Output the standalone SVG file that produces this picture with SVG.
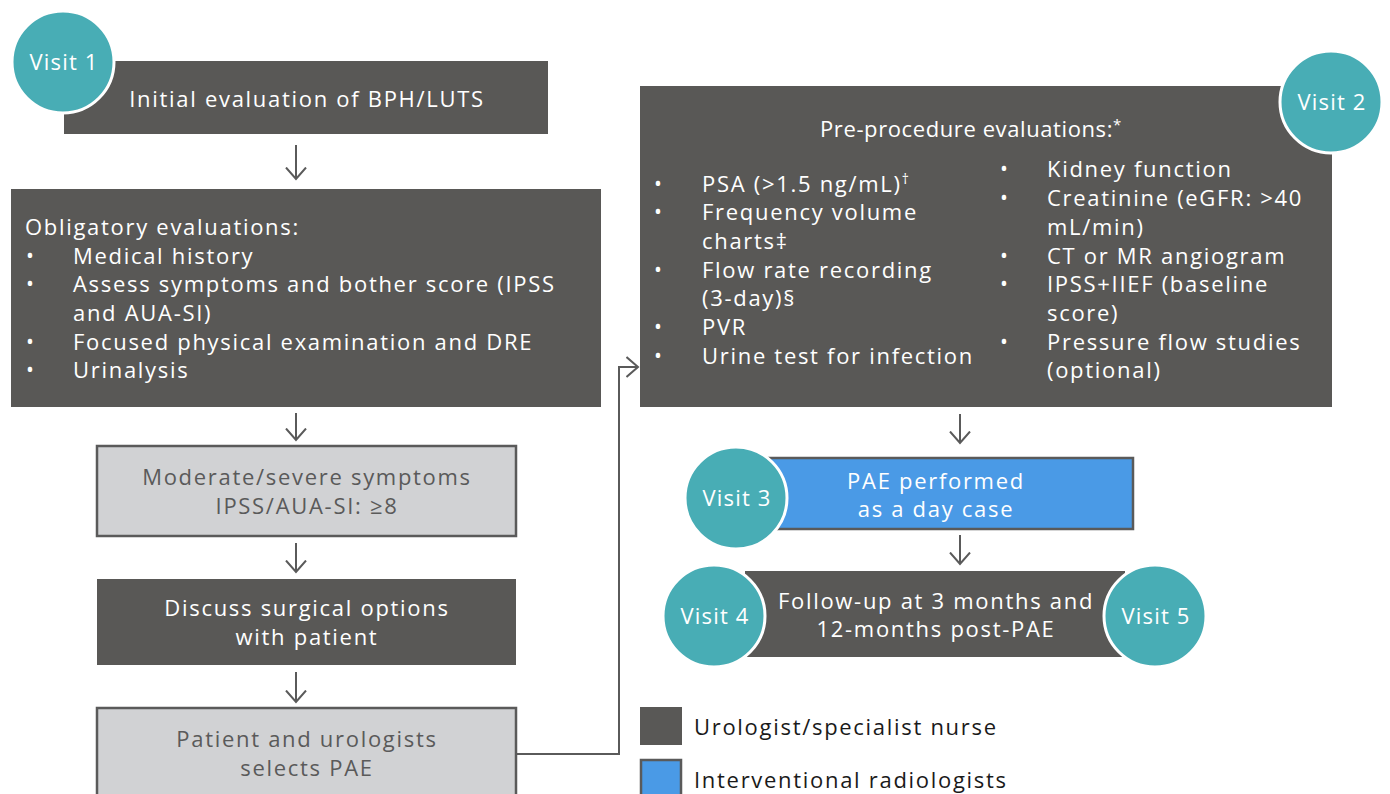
<svg xmlns="http://www.w3.org/2000/svg" width="1390" height="794" viewBox="0 0 1390 794">
<style>
.dark{fill:#595856}
.light{fill:#d1d2d4;stroke:#5a5a5a;stroke-width:2.5}
.blue{fill:#4a9ae6;stroke:#5a5a5a;stroke-width:2.5}
.visit{fill:#48adb5;stroke:#fff;stroke-width:3}
text{font-family:"Open Sans","Liberation Sans",sans-serif;font-size:22px;letter-spacing:1.7px}
.w{fill:#fff}
.g{fill:#5a5a5a}
.k{fill:#1a1a1a}
.c{text-anchor:middle}
.b{font-size:21px;letter-spacing:0}
.conn{fill:none;stroke:#5a5a5a;stroke-width:2}
</style>
<defs>
<marker id="ah" viewBox="0 0 14 22" refX="12.5" refY="11" markerWidth="14" markerHeight="22" markerUnits="userSpaceOnUse" orient="auto">
<path d="M1,1 L12.5,11 L1,21" fill="none" stroke="#5a5a5a" stroke-width="2"/>
</marker>
</defs>

<g id="connectors">
<line class="conn" x1="296" y1="145" x2="296" y2="179" marker-end="url(#ah)"/>
<line class="conn" x1="296" y1="413" x2="296" y2="440" marker-end="url(#ah)"/>
<line class="conn" x1="296" y1="543" x2="296" y2="572" marker-end="url(#ah)"/>
<line class="conn" x1="296" y1="672" x2="296" y2="702" marker-end="url(#ah)"/>
<polyline class="conn" points="516,754 619,754 619,367 638,367" marker-end="url(#ah)"/>
<line class="conn" x1="960" y1="414" x2="960" y2="443" marker-end="url(#ah)"/>
<line class="conn" x1="960" y1="535" x2="960" y2="564" marker-end="url(#ah)"/>
</g>

<g id="initial">
<rect class="dark" x="64" y="61" width="484" height="73"/>
<text class="w c" x="307" y="107">Initial evaluation of BPH/LUTS</text>
</g>
<g id="visit1">
<circle class="visit" cx="63" cy="62" r="51"/>
<text class="w c" x="64" y="70" style="letter-spacing:1.2px">Visit 1</text>
</g>

<g id="obligatory">
<rect class="dark" x="11" y="189" width="590" height="218"/>
<text class="w" x="25" y="235">Obligatory evaluations:</text>
<text class="w b" x="26" y="263">•</text><text class="w" x="73" y="264">Medical history</text>
<text class="w b" x="26" y="291">•</text><text class="w" x="73" y="292">Assess symptoms and bother score (IPSS</text>
<text class="w" x="73" y="321">and AUA-SI)</text>
<text class="w b" x="26" y="349">•</text><text class="w" x="73" y="350">Focused physical examination and DRE</text>
<text class="w b" x="26" y="377">•</text><text class="w" x="73" y="378">Urinalysis</text>
</g>

<g id="moderate">
<rect class="light" x="97" y="446" width="419" height="90"/>
<text class="g c" x="307" y="485">Moderate/severe symptoms</text>
<text class="g c" x="307" y="514">IPSS/AUA-SI: ≥8</text>
</g>

<g id="discuss">
<rect class="dark" x="97" y="579" width="419" height="86"/>
<text class="w c" x="307" y="616">Discuss surgical options</text>
<text class="w c" x="307" y="645">with patient</text>
</g>

<g id="selects">
<rect class="light" x="97" y="708" width="419" height="96"/>
<text class="g c" x="307" y="747">Patient and urologists</text>
<text class="g c" x="307" y="776">selects PAE</text>
</g>

<g id="preprocedure">
<rect class="dark" x="640" y="86" width="692" height="321"/>
<text class="w c" x="971" y="137" style="letter-spacing:0.6px">Pre-procedure evaluations:<tspan font-size="15" dy="-7">*</tspan></text>
<text class="w b" x="654" y="191">•</text><text class="w" x="702" y="192">PSA (&gt;1.5 ng/mL)<tspan font-size="14" dy="-8">†</tspan></text>
<text class="w b" x="654" y="219">•</text><text class="w" x="702" y="220">Frequency volume</text>
<text class="w" x="702" y="249">charts‡</text>
<text class="w b" x="654" y="277">•</text><text class="w" x="702" y="278">Flow rate recording</text>
<text class="w" x="702" y="306">(3-day)§</text>
<text class="w b" x="654" y="334">•</text><text class="w" x="702" y="335">PVR</text>
<text class="w b" x="654" y="363">•</text><text class="w" x="702" y="364">Urine test for infection</text>
<text class="w b" x="1000" y="176">•</text><text class="w" x="1047" y="177">Kidney function</text>
<text class="w b" x="1000" y="205">•</text><text class="w" x="1047" y="206">Creatinine (eGFR: &gt;40</text>
<text class="w" x="1047" y="235">mL/min)</text>
<text class="w b" x="1000" y="263">•</text><text class="w" x="1047" y="264">CT or MR angiogram</text>
<text class="w b" x="1000" y="291">•</text><text class="w" x="1047" y="292">IPSS+IIEF (baseline</text>
<text class="w" x="1047" y="321">score)</text>
<text class="w b" x="1000" y="349">•</text><text class="w" x="1047" y="350">Pressure flow studies</text>
<text class="w" x="1047" y="378">(optional)</text>
</g>
<g id="visit2">
<circle class="visit" cx="1331" cy="102" r="51"/>
<text class="w c" x="1332" y="110" style="letter-spacing:1.2px">Visit 2</text>
</g>

<g id="pae">
<rect class="blue" x="763" y="458" width="370" height="71"/>
<text class="w c" x="936" y="489">PAE performed</text>
<text class="w c" x="936" y="517">as a day case</text>
</g>
<g id="visit3">
<circle class="visit" cx="736" cy="498" r="51"/>
<text class="w c" x="737" y="506" style="letter-spacing:1.2px">Visit 3</text>
</g>

<g id="followup">
<rect class="dark" x="745" y="571" width="380" height="86"/>
<text class="w c" x="936" y="609">Follow-up at 3 months and</text>
<text class="w c" x="936" y="637">12-months post-PAE</text>
</g>
<g id="visit4">
<circle class="visit" cx="714" cy="616" r="51"/>
<text class="w c" x="715" y="624" style="letter-spacing:1.2px">Visit 4</text>
</g>
<g id="visit5">
<circle class="visit" cx="1155" cy="616" r="51"/>
<text class="w c" x="1156" y="624" style="letter-spacing:1.2px">Visit 5</text>
</g>

<g id="legend">
<rect class="dark" x="640" y="707" width="42" height="38"/>
<text class="k" x="694" y="735">Urologist/specialist nurse</text>
<rect class="blue" x="641" y="760" width="40" height="40"/>
<text class="k" x="694" y="788">Interventional radiologists</text>
</g>
</svg>
